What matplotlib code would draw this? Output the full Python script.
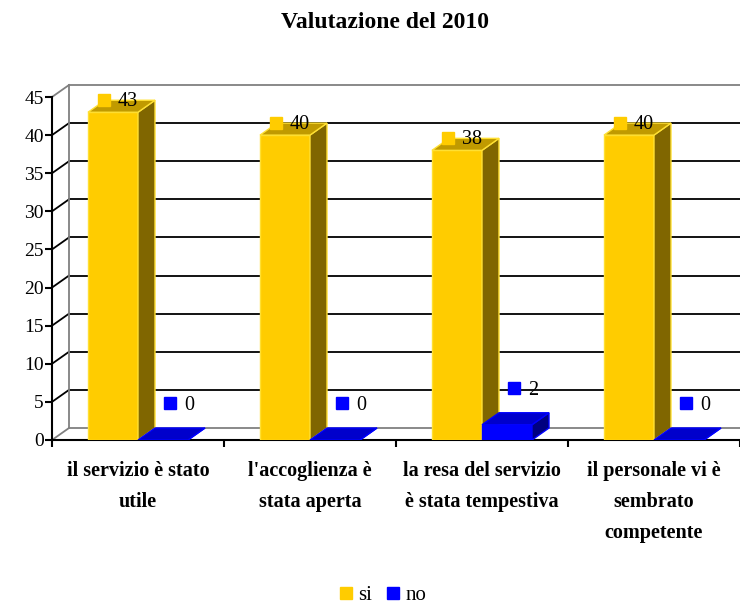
import matplotlib
matplotlib.use("Agg")
import matplotlib.pyplot as plt
from matplotlib.patches import Polygon
from matplotlib.lines import Line2D

plt.rcParams['font.family'] = ['Liberation Serif', 'DejaVu Serif']

categories = ["il servizio è stato\nutile",
              "l'accoglienza è\nstata aperta",
              "la resa del servizio\nè stata tempestiva",
              "il personale vi è\nsembrato\ncompetente"]
si = [43, 40, 38, 40]
no = [0, 0, 2, 0]
yticks = list(range(0, 50, 5))

# pixel geometry of the fake 3d box
px_x = 172.0          # pixels per category
px_y = 343.0 / 45     # pixels per value unit
dx = 17 / px_x        # depth offset
dy = 12 / px_y
w = 50 / px_x         # bar width
gap = 36 / px_x
ymax = 47

fig = plt.figure(figsize=(7.4, 6.05), dpi=100)
ax = fig.add_axes([52 / 740, 165 / 605, 688 / 740, ymax * px_y / 605])
ax.set_xlim(0, len(categories))
ax.set_ylim(0, ymax)
for s in ['top', 'right']:
    ax.spines[s].set_visible(False)
ax.spines['left'].set_bounds(0, 45)
ax.spines['left'].set_linewidth(1.5)
ax.spines['bottom'].set_linewidth(1.5)
ax.set_yticks(yticks)
ax.tick_params(axis='y', length=5, width=1.5, labelsize=14, pad=1)
ax.set_xticks([i + 0.5 for i in range(len(categories))])
ax.set_xticklabels(categories, fontsize=14.5, fontweight='bold')
ax.set_xticks(range(len(categories) + 1), minor=True)
ax.tick_params(axis='x', which='major', length=0, pad=15)
ax.tick_params(axis='x', which='minor', length=5, width=1.5)
for lab in ax.get_xticklabels():
    lab.set_linespacing(1.75)
    lab.set_verticalalignment('top')

# back wall and gridlines
xr = len(categories)
for v in yticks:
    col = 'grey' if v in (0, 45) else 'black'
    ax.plot([0, dx], [v, v + dy], color=col, lw=1.3, clip_on=False, zorder=1)
    ax.plot([dx, xr], [v + dy, v + dy], color=col, lw=1.3, clip_on=False, zorder=1)
ax.plot([dx, dx], [dy, 45 + dy], color='grey', lw=1.3, zorder=1)


def bar3d(x, v, front, top, side, edge):
    ax.bar(x, v, width=w, align='edge', color=front, edgecolor=edge, lw=1, zorder=3)
    ax.add_patch(Polygon([(x + w, 0), (x + w + dx, dy), (x + w + dx, v + dy), (x + w, v)],
                         closed=True, facecolor=side, edgecolor=edge, lw=1, zorder=3))
    ax.add_patch(Polygon([(x, v), (x + dx, v + dy), (x + w + dx, v + dy), (x + w, v)],
                         closed=True, facecolor=top, edgecolor=edge, lw=1, zorder=3))


for i in range(len(categories)):
    xs = i + gap
    bar3d(xs, si[i], '#FFCC00', '#C09A00', '#806600', '#FFE033')
    bar3d(xs + w, no[i], '#0000FF', '#0000CC', '#000080', '#0000FF')

    ax.plot(i + 0.302, si[i] + 1.65, marker='s', ms=9, color='#FFCC00', zorder=5, clip_on=False)
    ax.annotate(str(si[i]), (i + 0.302, si[i] + 1.65), xytext=(10, -1.5), textcoords='offset points',
                ha='left', va='center', fontsize=14.5, zorder=6)
    ax.plot(i + 0.686, no[i] + 4.8, marker='s', ms=9, color='#0000FF', zorder=5)
    ax.annotate(str(no[i]), (i + 0.686, no[i] + 4.8), xytext=(10, -1.5), textcoords='offset points',
                ha='left', va='center', fontsize=14.5, zorder=6)

fig.text(0.52, 1 - 22 / 605, "Valutazione del 2010", ha='center', va='center',
         fontsize=17, fontweight='bold')

handles = [Line2D([], [], marker='s', ls='', ms=9, color='#FFCC00', label='si'),
           Line2D([], [], marker='s', ls='', ms=9, color='#0000FF', label='no')]
fig.legend(handles=handles, loc='center', bbox_to_anchor=(0.515, 1 - 595 / 605), ncol=2,
           frameon=False, fontsize=15, handletextpad=0.1, columnspacing=0.5, handlelength=1)

fig.savefig("out.png", dpi=100)
